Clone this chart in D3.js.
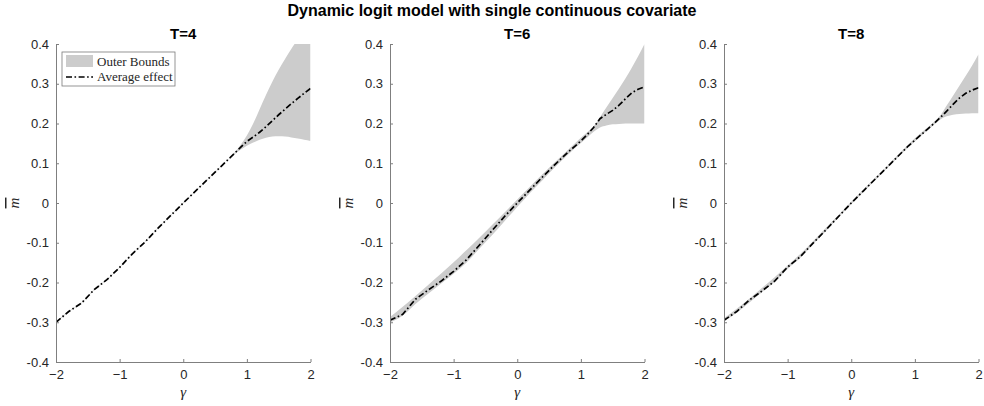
<!DOCTYPE html>
<html>
<head>
<meta charset="utf-8">
<script src="https://cdn.jsdelivr.net/npm/d3@7"></script>
<style>
  body { margin: 0; background: #fff; }
  svg { display: block; }
  .tick text { font-family: "Liberation Sans", Arial, sans-serif; font-size: 13px; fill: #262626; }
</style>
</head>
<body>
<svg width="984" height="406"></svg>
<script>
// gamma grid shared by all panels
const gamma = [-2.0, -1.8, -1.6, -1.4, -1.2, -1.0, -0.8, -0.6, -0.4, -0.2, 0, 0.2, 0.4, 0.6, 0.8,
               0.9, 1.0, 1.1, 1.2, 1.3, 1.4, 1.5, 1.6, 1.7, 1.8, 1.9, 2.0];

// T=4
const avgT4 = [-0.300, -0.273, -0.252, -0.218, -0.193, -0.162, -0.128, -0.098, -0.064, -0.032, 0.000, 0.031, 0.062, 0.093, 0.124,
               0.140, 0.155, 0.166, 0.178, 0.192, 0.207, 0.222, 0.236, 0.250, 0.263, 0.276, 0.288];
const upT4 = [-0.299, -0.272, -0.251, -0.217, -0.192, -0.161, -0.127, -0.097, -0.063, -0.031, 0.001, 0.032, 0.063, 0.094, 0.126,
              0.146, 0.170, 0.200, 0.236, 0.272, 0.305, 0.335, 0.362, 0.388, 0.412, 0.436, 0.460];
const loT4 = [-0.301, -0.274, -0.253, -0.219, -0.194, -0.163, -0.129, -0.099, -0.065, -0.033, -0.001, 0.030, 0.061, 0.092, 0.122,
              0.134, 0.144, 0.152, 0.159, 0.164, 0.167, 0.168, 0.167, 0.165, 0.162, 0.159, 0.156];

// T=6
const avgT6 = [-0.295, -0.280, -0.242, -0.219, -0.197, -0.172, -0.143, -0.107, -0.070, -0.034, 0.000, 0.033, 0.066, 0.098, 0.128,
               0.142, 0.156, 0.172, 0.190, 0.212, 0.223, 0.233, 0.246, 0.262, 0.277, 0.286, 0.292];
const upT6 = [-0.287, -0.261, -0.234, -0.206, -0.178, -0.149, -0.119, -0.088, -0.056, -0.024, 0.009, 0.041, 0.073, 0.104, 0.134,
              0.149, 0.164, 0.178, 0.193, 0.216, 0.240, 0.264, 0.288, 0.313, 0.340, 0.369, 0.400];
const loT6 = [-0.301, -0.283, -0.254, -0.228, -0.203, -0.178, -0.150, -0.116, -0.082, -0.046, -0.010, 0.025, 0.058, 0.091, 0.122,
              0.137, 0.151, 0.165, 0.179, 0.190, 0.195, 0.198, 0.199, 0.200, 0.200, 0.200, 0.200];

// T=8
const avgT8 = [-0.295, -0.273, -0.244, -0.221, -0.196, -0.161, -0.135, -0.101, -0.068, -0.034, 0.000, 0.032, 0.064, 0.096, 0.128,
               0.144, 0.158, 0.172, 0.186, 0.200, 0.215, 0.231, 0.248, 0.264, 0.276, 0.284, 0.290];
const upT8 = [-0.290, -0.266, -0.240, -0.213, -0.186, -0.157, -0.128, -0.096, -0.063, -0.030, 0.003, 0.035, 0.067, 0.099, 0.132,
              0.148, 0.163, 0.177, 0.190, 0.204, 0.220, 0.245, 0.270, 0.295, 0.320, 0.346, 0.374];
const loT8 = [-0.298, -0.276, -0.250, -0.224, -0.198, -0.166, -0.138, -0.104, -0.071, -0.036, -0.003, 0.029, 0.061, 0.093, 0.125,
              0.141, 0.155, 0.169, 0.183, 0.197, 0.210, 0.218, 0.222, 0.224, 0.225, 0.226, 0.226];

const panelTitles = ["T=4", "T=6", "T=8"];
const xTicks = [-2, -1, 0, 1, 2];
const yTicks = [-0.4, -0.3, -0.2, -0.1, 0, 0.1, 0.2, 0.3, 0.4];
const yTickLabels = ["-0.4", "-0.3", "-0.2", "-0.1", "0", "0.1", "0.2", "0.3", "0.4"];

const panels = [
  { title: panelTitles[0], avg: avgT4, up: upT4, lo: loT4, left: 56 },
  { title: panelTitles[1], avg: avgT6, up: upT6, lo: loT6, left: 390 },
  { title: panelTitles[2], avg: avgT8, up: upT8, lo: loT8, left: 724 }
];

const svg = d3.select("svg");
const plotW = 254.5, plotTop = 44, plotBottom = 362;
const dash = "6,2.5,1.6,2.5";

svg.append("text")
  .attr("x", 492).attr("y", 16)
  .attr("text-anchor", "middle")
  .style("font-family", "Liberation Sans, Arial, sans-serif")
  .style("font-weight", "bold")
  .style("font-size", "16px")
  .style("fill", "#000")
  .text("Dynamic logit model with single continuous covariate");

panels.forEach((p, i) => {
  const x = d3.scaleLinear().domain([-2, 2]).range([p.left, p.left + plotW]);
  const y = d3.scaleLinear().domain([-0.4, 0.4]).range([plotBottom, plotTop]);

  svg.append("clipPath").attr("id", "clip" + i)
    .append("rect")
    .attr("x", p.left).attr("y", plotTop)
    .attr("width", plotW).attr("height", plotBottom - plotTop);

  const g = svg.append("g");

  // band
  const area = d3.area()
    .x((d, j) => x(gamma[j]))
    .y0((d, j) => y(p.lo[j]))
    .y1((d, j) => y(p.up[j]))
    .curve(d3.curveMonotoneX);
  g.append("path")
    .datum(gamma)
    .attr("clip-path", `url(#clip${i})`)
    .attr("d", area)
    .attr("fill", "#cccccc")
    .attr("stroke", "none");

  // average effect
  const line = d3.line()
    .x((d, j) => x(gamma[j]))
    .y(d => y(d));
  g.append("path")
    .datum(p.avg)
    .attr("clip-path", `url(#clip${i})`)
    .attr("d", line)
    .attr("fill", "none")
    .attr("stroke", "#000")
    .attr("stroke-width", 1.7)
    .attr("stroke-dasharray", dash);

  // axes, ticks inward
  const xAxis = d3.axisBottom(x).tickValues(xTicks).tickSizeInner(-3).tickSizeOuter(0)
    .tickPadding(8).tickFormat(d3.format("d"));
  const xg = g.append("g").attr("transform", `translate(0,${plotBottom})`).call(xAxis);

  const yAxis = d3.axisLeft(y).tickValues(yTicks).tickSizeInner(-3).tickSizeOuter(0)
    .tickPadding(7).tickFormat((d, j) => yTickLabels[j]);
  const yg = g.append("g").attr("transform", `translate(${p.left},0)`).call(yAxis);

  [xg, yg].forEach(a => {
    a.select(".domain").attr("stroke", "#7f7f7f");
    a.selectAll(".tick line").attr("stroke", "#7f7f7f");
  });

  // panel title
  g.append("text")
    .attr("x", p.left + plotW / 2).attr("y", 39)
    .attr("text-anchor", "middle")
    .style("font-family", "Liberation Sans, Arial, sans-serif")
    .style("font-weight", "bold")
    .style("font-size", "15px")
    .text(p.title);

  // x label
  g.append("text")
    .attr("x", p.left + plotW / 2).attr("y", 397)
    .attr("text-anchor", "middle")
    .style("font-family", "Liberation Serif, Times New Roman, serif")
    .style("font-style", "italic")
    .style("font-size", "15px")
    .style("fill", "#262626")
    .text("γ");

  // y label: m with overline
  g.append("text")
    .attr("transform", `translate(${p.left - 37},${(plotTop + plotBottom) / 2}) rotate(-90)`)
    .attr("text-anchor", "middle")
    .style("font-family", "Liberation Serif, Times New Roman, serif")
    .style("font-style", "italic")
    .style("font-size", "15px")
    .style("fill", "#262626")
    .style("text-decoration", "overline")
    .text("m");
});

// legend in first panel
const lg = svg.append("g");
lg.append("rect")
  .attr("x", 62).attr("y", 52).attr("width", 113).attr("height", 34)
  .attr("fill", "#fff").attr("stroke", "#7a7a7a").attr("stroke-width", 0.8);
lg.append("rect")
  .attr("x", 66).attr("y", 55).attr("width", 27).attr("height", 12)
  .attr("fill", "#cccccc");
lg.append("line")
  .attr("x1", 66).attr("x2", 93).attr("y1", 77).attr("y2", 77)
  .attr("stroke", "#000").attr("stroke-width", 1.7)
  .attr("stroke-dasharray", dash);
[["Outer Bounds", 65.5], ["Average effect", 81]].forEach(([t, yy]) => {
  lg.append("text")
    .attr("x", 97).attr("y", yy)
    .style("font-family", "Liberation Serif, Times New Roman, serif")
    .style("font-size", "13px")
    .style("fill", "#262626")
    .text(t);
});
</script>
</body>
</html>
